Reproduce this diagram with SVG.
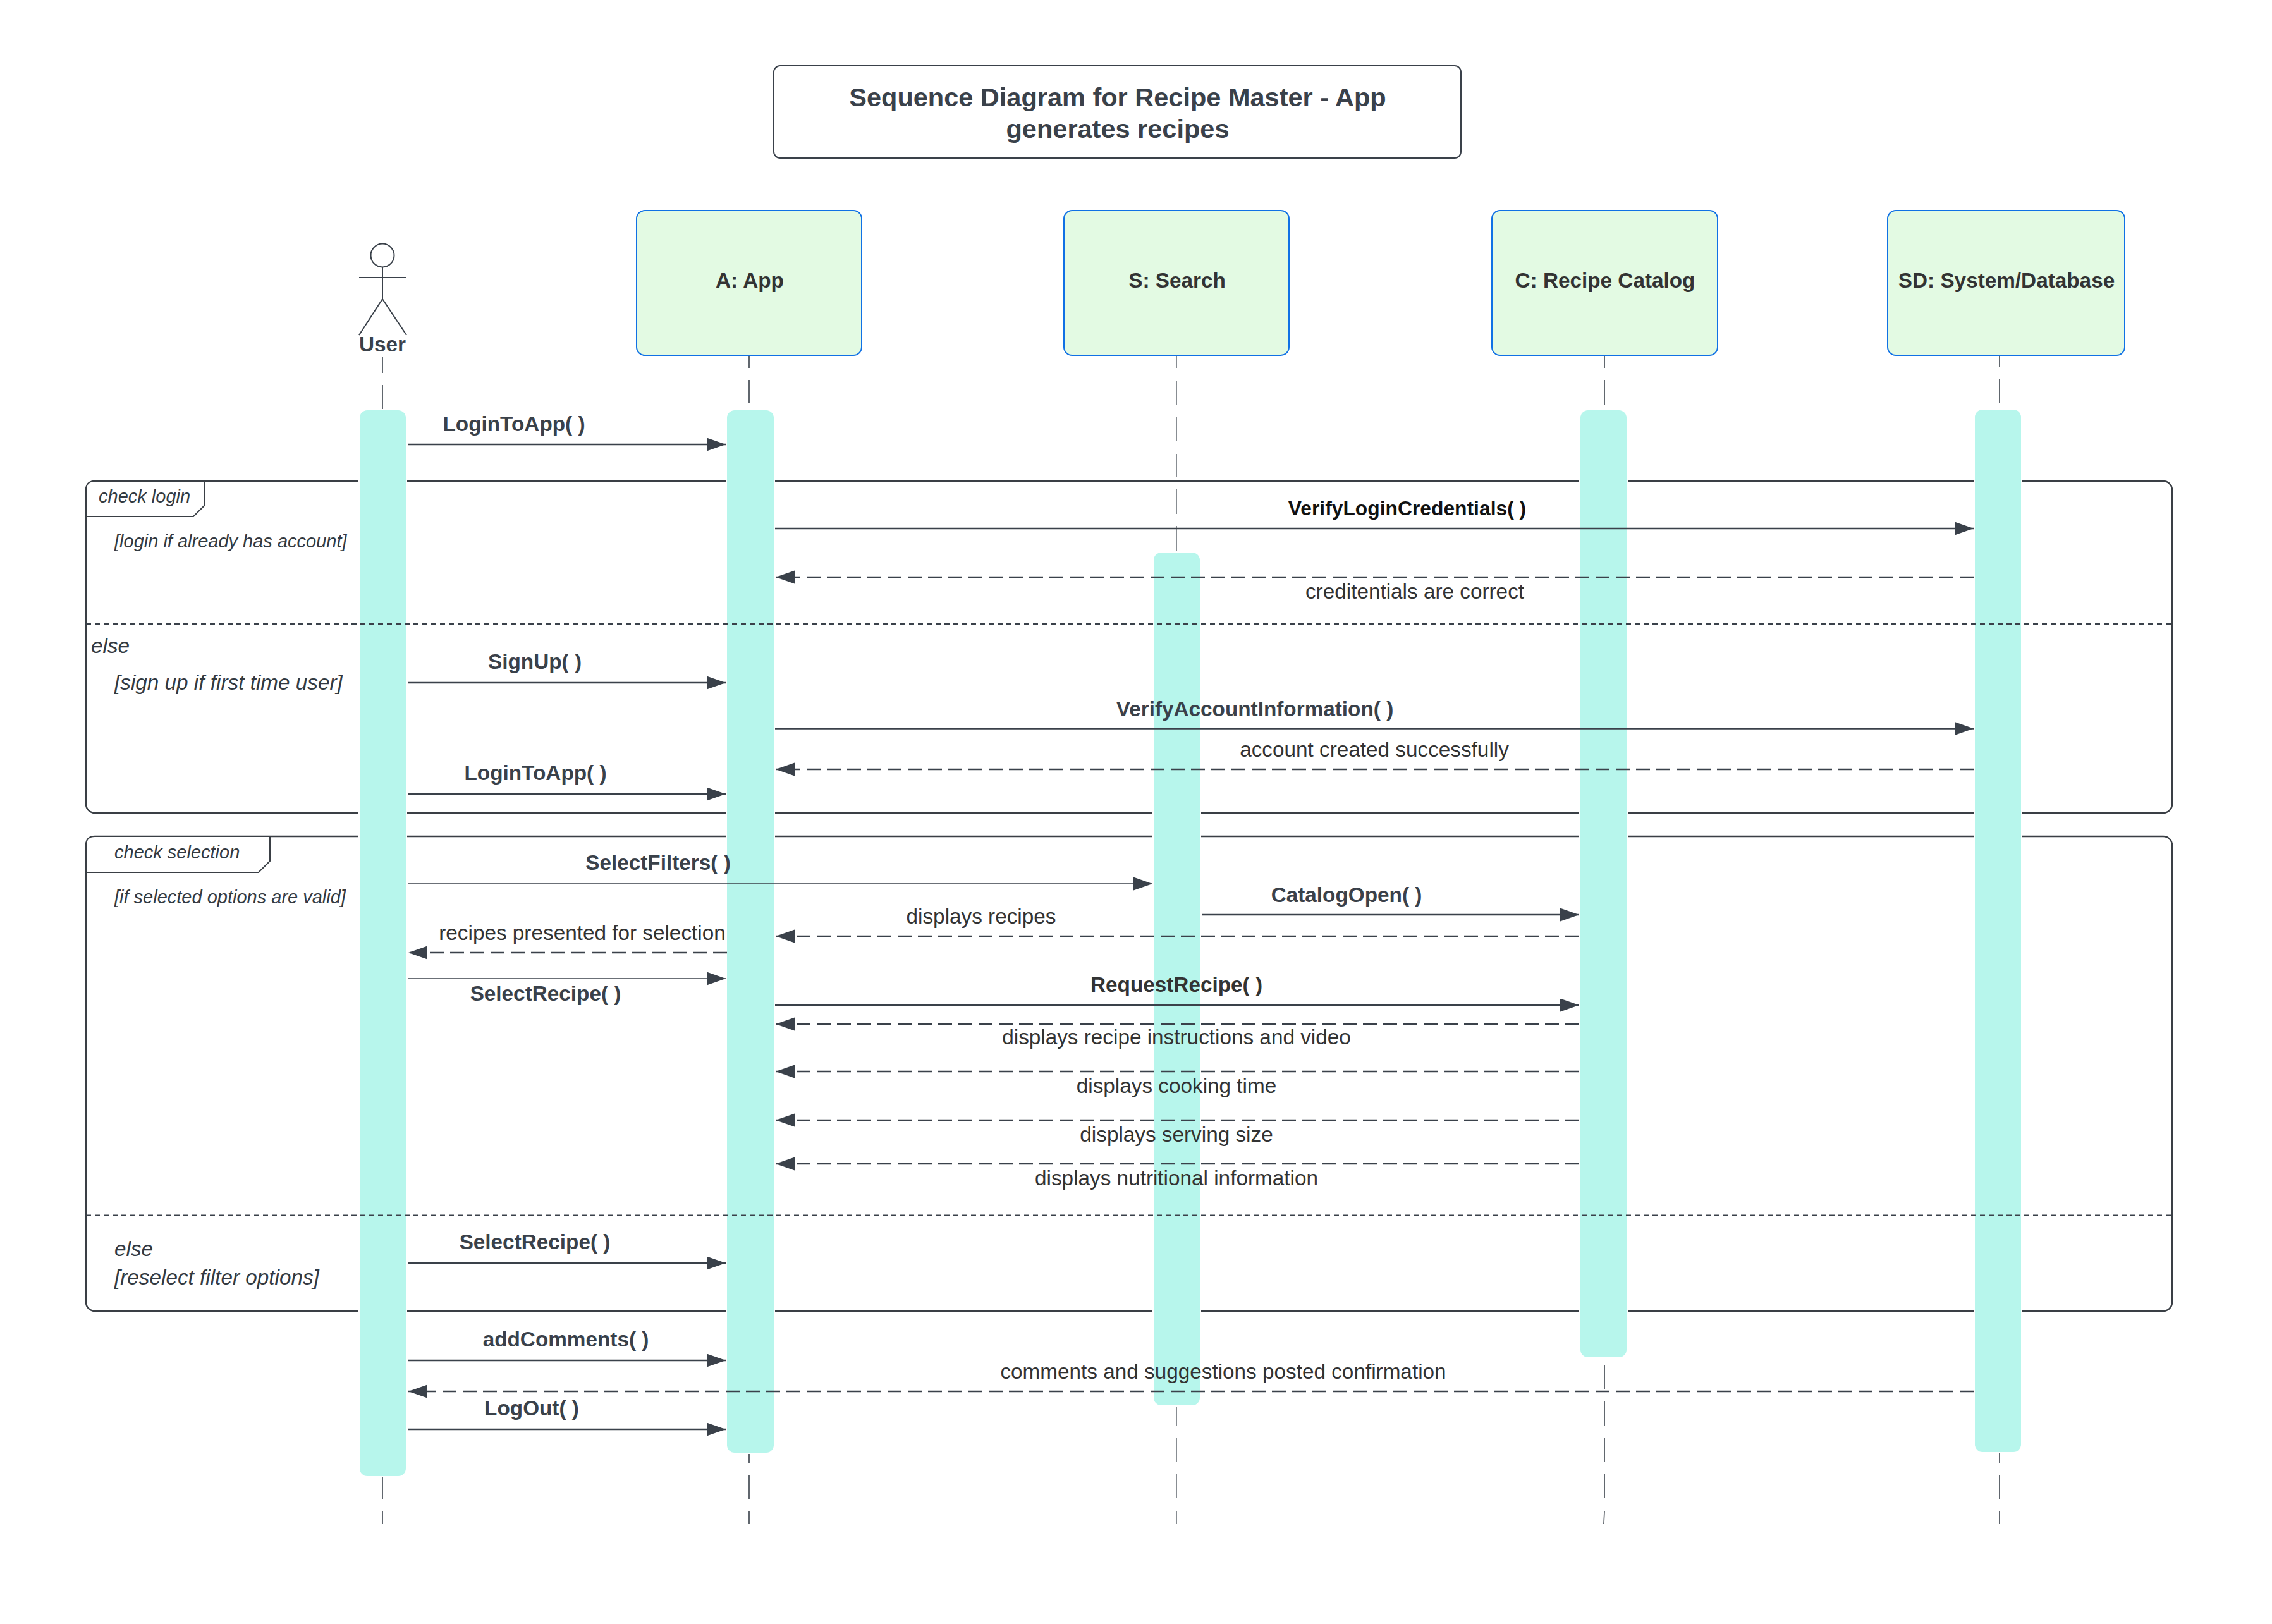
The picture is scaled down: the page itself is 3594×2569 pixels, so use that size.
<svg xmlns="http://www.w3.org/2000/svg" width="3594" height="2569" viewBox="0 0 3594 2569">
<style>
text{font-family:"Liberation Sans",Arial,sans-serif;font-size:33.300px;fill:#333a42}
.m{text-anchor:middle}
.b{font-weight:700;fill:#3a414a}
.r{fill:#333}
.i{font-style:italic}
.s{font-size:29px}
.n{font-weight:700;fill:#333;text-anchor:middle}
.box{fill:#e3fae3;stroke:#1071e5;stroke-width:2}
.bar{fill:#b7f6ec;stroke:#fff;stroke-width:2}
.fr{fill:none;stroke:#3a3f45;stroke-width:2.5}
.hd{fill:#fff;stroke:#3a3f45;stroke-width:2}
.div{stroke:#3a414a;stroke-width:2;stroke-dasharray:8 6}
.ll{fill:none;stroke:#3a414a;stroke-width:1.6}
.a{fill:none;stroke:#3a414a;stroke-width:2.6;marker-end:url(#arr)}
.t{stroke-width:1.6}
.d{stroke-dasharray:22 10}
.act{fill:none;stroke:#3a414a;stroke-width:2}
</style>
<defs><marker id="arr" markerUnits="userSpaceOnUse" markerWidth="31" markerHeight="22" refX="30" refY="10.500" orient="auto"><path d="M0 0L30 10.500L0 21z" fill="#3a414a"/></marker></defs>
<rect width="3594" height="2569" fill="#fff"/>
<g id="title"><rect x="1224" y="104" width="1087" height="146" rx="10" fill="#fff" stroke="#3a414a" stroke-width="2"/>
<text class="b m" x="1768" y="168" style="font-size:41.500px">Sequence Diagram for Recipe Master - App</text>
<text class="b m" x="1768" y="218" style="font-size:41.500px">generates recipes</text></g>
<g id="lifelines">
<path class="ll" d="M605 564V590M605 609V647M605 2337V2372M605 2390V2411"/>
<path class="ll" d="M1185 563V582M1185 601V637M1185 2299V2315M1185 2334V2372M1185 2390V2411"/>
<path class="ll" style="stroke-width:1.200" d="M1861 562V582M1861 602V641M1861 660V697M1861 718V755M1861 774V813M1861 832V872M1861 2224V2255M1861 2274V2313M1861 2332V2369M1861 2390V2411"/>
<path class="ll" d="M2538 563V582M2538 601V640M2538 2160V2197M2538 2216V2255M2538 2274V2313M2538 2332V2369M2538 2390L2537 2411"/>
<path class="ll" d="M3163 563V581M3163 600V637M3163 2298V2315M3163 2334V2372M3163 2390V2411"/>
</g>
<g id="frame-check-login"><rect class="fr" x="136" y="761" width="3300" height="525" rx="14"/>
<path class="hd" d="M136 775Q136 761 150 761H324V799L306 817H136z"/>
<text class="i s" x="156" y="795">check login</text>
<text class="i s" x="181" y="866">[login if already has account]</text>
<text class="i" x="144" y="1033">else</text>
<text class="i" x="181" y="1091">[sign up if first time user]</text></g>
<g id="frame-check-selection"><rect class="fr" x="136" y="1323" width="3300" height="751" rx="14"/>
<path class="hd" d="M136 1337Q136 1323 150 1323H427V1362L409 1380H136z"/>
<text class="i s" x="181" y="1358">check selection</text>
<text class="i s" x="181" y="1429">[if selected options are valid]</text>
<text class="i" x="181" y="1987">else</text>
<text class="i" x="181" y="2032">[reselect filter options]</text></g>
<g id="activations">
<rect class="bar" x="568" y="648" width="75" height="1688" rx="13"/>
<rect class="bar" x="1149" y="648" width="76" height="1651" rx="13"/>
<rect class="bar" x="1824" y="873" width="75" height="1351" rx="13"/>
<rect class="bar" x="2499" y="648" width="75" height="1500" rx="13"/>
<rect class="bar" x="3123" y="647" width="75" height="1651" rx="13"/>
</g>
<g id="dividers"><path class="div" d="M136 987H3436M136 1922.500H3436"/></g>
<g id="user"><circle class="act" cx="605" cy="404" r="18.500"/><path class="act" d="M605 422V473M568 439H643M605 473L568 530M605 473L643 530"/>
<text class="b m" x="605" y="556">User</text></g>
<g id="node-app"><rect class="box" x="1007" y="333" width="356" height="229" rx="13"/><text class="n" x="1186" y="455">A: App</text></g>
<g id="node-search"><rect class="box" x="1683" y="333" width="356" height="229" rx="13"/><text class="n" x="1862" y="455">S: Search</text></g>
<g id="node-catalog"><rect class="box" x="2360" y="333" width="357" height="229" rx="13"/><text class="n" x="2539" y="455">C: Recipe Catalog</text></g>
<g id="node-system"><rect class="box" x="2986" y="333" width="375" height="229" rx="13"/><text class="n" x="3174" y="455">SD: System/Database</text></g>
<g id="connectors">
<path class="a" d="M645 703H1148"/>
<path class="a" d="M1226 836H3122"/>
<path class="a d" d="M3122 913H1227"/>
<path class="a" d="M645 1080H1148"/>
<path class="a" d="M1226 1152.500H3122"/>
<path class="a d" d="M3122 1217H1227"/>
<path class="a" d="M645 1256H1148"/>
<path class="a t" d="M645 1398H1823"/>
<path class="a" d="M1901 1447H2498"/>
<path class="a d" d="M2498 1481H1227"/>
<path class="a d" d="M1150 1507H646"/>
<path class="a t" d="M645 1548H1148"/>
<path class="a" d="M1226 1590H2498"/>
<path class="a d" d="M2498 1620H1227"/>
<path class="a d" d="M2498 1695H1227"/>
<path class="a d" d="M2498 1772H1227"/>
<path class="a d" d="M2498 1841H1227"/>
<path class="a" d="M645 1998H1148"/>
<path class="a" d="M645 2152H1148"/>
<path class="a d" d="M3122 2201H646"/>
<path class="a" d="M645 2261H1148"/>
</g>
<g id="labels">
<text class="b m" x="813" y="682">LoginToApp( )</text>
<text class="b m" x="2226" y="815" style="fill:#111;font-size:31.800px">VerifyLoginCredentials( )</text>
<text class="r m" x="2238" y="947">creditentials are correct</text>
<text class="b m" x="846" y="1058">SignUp( )</text>
<text class="b m" x="1985" y="1133">VerifyAccountInformation( )</text>
<text class="r m" x="2174" y="1197">account created successfully</text>
<text class="b m" x="847" y="1234">LoginToApp( )</text>
<text class="b m" x="1041" y="1376">SelectFilters( )</text>
<text class="b m" x="2130" y="1427">CatalogOpen( )</text>
<text class="r m" x="1552" y="1461">displays recipes</text>
<text class="r m" x="921" y="1487">recipes presented for selection</text>
<text class="b m" x="863" y="1583">SelectRecipe( )</text>
<text class="b m" x="1861" y="1569" style="fill:#333">RequestRecipe( )</text>
<text class="r m" x="1861" y="1652">displays recipe instructions and video</text>
<text class="r m" x="1861" y="1729">displays cooking time</text>
<text class="r m" x="1861" y="1806">displays serving size</text>
<text class="r m" x="1861" y="1875">displays nutritional information</text>
<text class="b m" x="846" y="1976">SelectRecipe( )</text>
<text class="b m" x="895" y="2130">addComments( )</text>
<text class="r m" x="1935" y="2181">comments and suggestions posted confirmation</text>
<text class="b m" x="841" y="2239">LogOut( )</text>
</g>
</svg>
